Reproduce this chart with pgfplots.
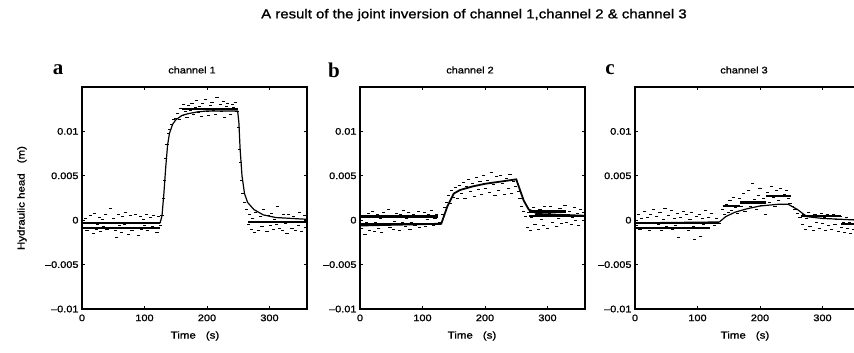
\documentclass[border=0pt]{standalone}
\usepackage{pgfplots}
\pgfplotsset{compat=1.18}
\usepackage{fontspec}
\setmainfont{Liberation Sans}
\newfontfamily\wide[FakeStretch=1.15, FakeBold=1.2]{Liberation Sans}
\newfontfamily\letterfont{Liberation Serif}
\begin{document}
\begin{tikzpicture}[x=1bp,y=1bp]
\pgfplotsset{
  panel/.style={
    scale only axis, width=225bp, height=222bp,
    anchor=south west,
    xmin=0, xmax=360, ymin=-10, ymax=15,
    xtick={0,100,200,300},
    ytick={-10,-5,0,5,10},
    yticklabels={\textendash0.01,\textendash0.005,0,0.005,0.01},
    tick align=inside, major tick length=3bp,
    axis line style={line width=1.4bp},
    tick style={line width=0.9bp, black},
    tick label style={font=\fontsize{9.5bp}{10bp}\wide},
    /pgf/number format/assume math mode=true,
    xticklabel style={yshift=-2bp},
    clip=true,
  },
  model/.style={black, line width=1.2bp, no marks},
  band/.style={black, line width=2.4bp, no marks},
  dots/.style={black, only marks, mark=-, mark size=1.6bp, mark options={line width=0.8bp}},
}
\path[use as bounding box] (0,0) rectangle (854,352);
% ---------------- panel a ----------------
\begin{axis}[panel, at={(82bp,43bp)}]
\addplot[dots] coordinates {
(3,-0.8)(5,0.2)(8,-1.2)(10,-0.4)(13,0.5)(15,-0.9)(18,-1.5)(20,0.8)(23,-1.0)(25,-0.5)
(28,0.3)(30,-1.3)(33,0.1)(35,-0.7)(38,0.6)(40,-1.0)(43,-0.3)(45,1.3)(48,-0.8)(50,0.2)
(53,-1.1)(55,-1.9)(58,0.7)(60,-0.6)(63,-1.4)(65,0.4)(68,-0.5)(70,0.9)(73,-0.9)(75,-1.6)
(78,0.5)(80,-1.2)(83,-0.3)(85,0.6)(88,-0.8)(90,-1.7)(93,0.4)(95,-1.0)(98,0.1)(100,-0.6)
(103,0.7)(105,-1.1)(108,-0.3)(110,0.3)(113,-0.7)(115,0.5)(118,-0.9)(120,-1.4)(123,0.4)(125,-0.6)
(128,0.5)(130,2.5)(132,4.5)(134,7.0)(136,8.5)(138,9.8)(140,10.2)(143,10.8)(146,11.3)(150,11.5)
(153,12.0)(156,11.3)(158,12.6)(161,11.8)(163,13.0)(166,12.2)(168,11.6)(171,12.9)(173,12.4)(176,13.2)
(178,11.9)(181,12.7)(183,13.5)(186,12.1)(188,12.8)(191,11.7)(193,13.1)(196,12.5)(198,13.6)(201,12.3)
(203,11.8)(206,12.9)(208,13.3)(211,12.4)(213,11.9)(216,13.8)(218,12.6)(221,13.0)(223,12.2)(226,13.4)
(228,11.6)(231,12.8)(233,13.2)(236,12.5)(238,11.9)(241,13.0)(243,12.7)(246,13.3)(248,12.2)
(251,10.5)(252,8.0)(253,6.5)(255,4.5)(257,3.0)(260,2.0)(263,1.2)
(266,-0.5)(268,0.6)(271,-1.0)(273,0.2)(276,-1.4)(278,0.9)(281,-0.3)(283,-1.1)(286,0.4)(288,-0.7)
(291,1.2)(293,-0.2)(296,-1.3)(298,0.5)(301,-0.6)(303,0.8)(306,-1.0)(308,0.1)(311,-0.5)(313,1.5)
(316,-0.9)(318,0.3)(321,-1.2)(323,0.6)(326,-0.4)(328,-1.5)(331,0.7)(333,-0.2)(336,-0.9)(338,0.4)
(341,-1.1)(343,0.2)(346,-0.6)(348,0.9)(351,-1.3)(353,-0.1)(356,0.5)(358,-0.8)
};
\addplot[band] coordinates {(2,-0.3)(125,-0.3)};
\addplot[band] coordinates {(2,-0.9)(125,-0.9)};
\addplot[band] coordinates {(160,12.5)(250,12.5)};
\addplot[band] coordinates {(265,-0.2)(360,-0.2)};
\addplot[model] coordinates {
(0,-0.3)(125,-0.3)(128,0.5)(131,3.0)(134,6.0)(137,8.5)(140,9.8)(145,10.8)(150,11.3)(160,11.8)
(170,12.0)(185,12.2)(200,12.3)(249,12.3)(251,11.0)(253,8.0)(256,5.0)(260,3.0)(265,2.0)(275,1.2)
(290,0.6)(310,0.3)(360,0.1)
};
\end{axis}
% ---------------- panel b ----------------
\begin{axis}[panel, at={(360bp,43bp)}]
\addplot[dots] coordinates {
(3,-0.9)(5,0.4)(8,-1.6)(10,-0.2)(13,0.8)(15,-1.1)(18,-0.5)(20,1.0)(23,-1.3)(25,-0.3)
(28,0.6)(30,-0.9)(33,0.2)(35,-1.4)(38,0.9)(40,-0.6)(43,0.3)(45,1.2)(48,-0.8)(50,0.5)
(53,-1.0)(55,-0.1)(58,0.8)(60,-0.5)(63,-1.2)(65,0.6)(68,-0.3)(70,1.1)(73,-0.7)(75,0.2)
(78,0.9)(80,-1.0)(83,-0.2)(85,0.7)(88,-0.6)(90,0.3)(93,1.0)(95,-0.8)(98,0.4)(100,-0.4)
(103,0.9)(105,-0.7)(108,0.1)(110,0.6)(113,-0.5)(115,1.1)(118,-0.6)(120,0.2)(123,0.7)(127,-0.3)
(132,0.6)(135,1.4)(138,2.0)(141,2.8)(144,1.9)(147,3.4)(150,2.6)(153,3.7)(156,2.4)(159,3.9)
(162,3.0)(165,4.3)(168,2.5)(171,3.8)(174,4.6)(177,3.2)(180,4.1)(183,2.7)(186,4.8)(189,3.5)
(192,4.4)(195,2.9)(198,5.1)(201,3.6)(204,4.5)(207,3.1)(210,5.4)(213,4.0)(216,2.8)(219,4.9)
(222,3.4)(225,5.0)(228,4.2)(231,2.9)(234,4.7)(237,3.6)(240,5.2)(243,3.0)(246,4.4)(249,3.8)
(253,3.2)(256,2.4)(259,1.6)(262,1.0)(265,0.4)
(268,-0.8)(270,0.9)(273,-1.2)(275,0.3)(278,1.4)(280,-0.5)(283,0.6)(285,-1.0)(288,1.2)(290,0.1)
(293,-0.6)(295,1.6)(298,0.4)(300,-0.9)(303,0.8)(305,1.5)(308,-0.3)(310,0.5)(313,1.1)(315,-0.7)
(318,0.2)(320,1.3)(323,-0.4)(325,0.7)(328,1.7)(330,-0.2)(333,0.6)(335,1.0)(338,-0.5)(340,0.3)
(343,1.4)(345,0.0)(348,0.8)(350,-0.6)(353,1.2)(355,0.4)(358,0.9)
};
\addplot[band] coordinates {(2,-0.4)(130,-0.4)};
\addplot[band] coordinates {(2,0.4)(125,0.4)};
\addplot[band] coordinates {(270,0.5)(360,0.5)};
\addplot[band] coordinates {(270,1.0)(330,1.0)};
\addplot[model, line width=1.8bp] coordinates {
(0,-0.6)(130,-0.4)(140,1.6)(150,3.0)(160,3.4)(180,3.8)(200,4.1)(220,4.3)(250,4.6)(255,3.6)
(262,2.2)(270,1.2)(285,0.7)(360,0.5)
};
\end{axis}
% ---------------- panel c ----------------
\begin{axis}[panel, at={(635bp,43bp)}]
\addplot[dots] coordinates {
(3,-0.6)(5,0.6)(8,-1.0)(10,0.2)(13,-0.4)(15,1.0)(18,-0.8)(20,0.3)(23,-1.2)(25,0.7)
(28,-0.2)(30,1.2)(33,-0.9)(35,0.4)(38,-0.5)(40,0.9)(43,-1.1)(45,0.1)(48,1.3)(50,-0.7)
(53,0.5)(55,-0.3)(58,1.1)(60,-1.0)(63,0.2)(65,-0.6)(68,0.8)(70,-1.9)(73,0.3)(75,-0.8)
(78,1.0)(80,-0.4)(83,0.6)(85,-1.2)(88,0.1)(90,0.9)(93,-0.7)(95,-2.2)(98,0.4)(100,-0.9)
(103,0.7)(105,-1.8)(108,0.2)(110,-0.5)(113,1.1)(115,-0.8)(118,0.3)(120,-0.3)(123,0.8)(127,-0.6)
(131,0.2)(135,-0.4)(140,1.2)(143,0.6)(146,1.8)(149,0.9)(152,2.2)(155,1.1)(158,2.6)(161,1.4)
(164,0.8)(167,2.4)(170,1.6)(173,3.0)(176,1.0)(179,2.1)(182,3.4)(185,1.5)(188,4.2)(191,2.3)
(194,1.2)(197,2.8)(200,3.6)(203,1.7)(206,2.5)(209,0.6)(212,3.1)(215,2.0)(218,3.8)(221,2.6)
(224,1.5)(227,3.3)(230,2.2)(233,3.6)(236,1.8)(239,2.9)(242,3.4)(245,2.4)(248,1.9)
(252,1.6)(256,1.2)(260,0.8)(264,0.3)
(268,-0.5)(270,0.6)(273,-1.0)(275,0.2)(278,0.9)(280,-0.7)(283,0.4)(285,-1.2)(288,0.7)(290,-0.3)
(293,0.5)(295,-0.9)(298,0.8)(300,-0.4)(303,0.3)(305,-1.1)(308,0.6)(310,-0.6)(313,0.2)(315,-1.0)
(318,0.7)(320,-0.5)(323,0.1)(325,-1.3)(328,0.4)(330,-0.8)(333,-0.2)(335,-1.4)(338,0.3)(340,-0.9)
(343,-0.3)(345,-1.5)(348,0.1)(350,-1.0)(353,-0.4)(355,-1.6)(358,-0.7)
};
\addplot[band] coordinates {(2,-0.3)(135,-0.3)};
\addplot[band] coordinates {(2,-0.9)(120,-0.9)};
\addplot[band] coordinates {(140,1.6)(168,1.6)};
\addplot[band] coordinates {(168,2.0)(210,2.0)};
\addplot[band] coordinates {(210,2.7)(250,2.7)};
\addplot[band] coordinates {(265,0.5)(330,0.5)};
\addplot[band] coordinates {(330,-0.4)(360,-0.4)};
\addplot[model] coordinates {
(0,-0.3)(135,-0.2)(145,0.4)(160,0.9)(180,1.3)(200,1.6)(230,1.8)(245,1.8)(260,1.2)(275,0.4)
(300,0.2)(360,0.0)
};
\end{axis}
% ---------------- texts ----------------
\node[font=\fontsize{13bp}{14bp}\wide] at (474,337) {A result of the joint inversion of channel 1,channel 2 \& channel 3};
\node[font=\fontsize{21bp}{22bp}\letterfont\bfseries] at (58,282) {a};
\node[font=\fontsize{21bp}{22bp}\letterfont\bfseries] at (334,282) {b};
\node[font=\fontsize{21bp}{22bp}\letterfont\bfseries] at (610,282) {c};
\node[font=\fontsize{9.5bp}{10bp}\wide] at (192,282) {channel 1};
\node[font=\fontsize{9.5bp}{10bp}\wide] at (470,282) {channel 2};
\node[font=\fontsize{9.5bp}{10bp}\wide] at (744,282) {channel 3};
\node[font=\fontsize{10bp}{10bp}\wide] at (195,16) {Time\quad(s)};
\node[font=\fontsize{10bp}{10bp}\wide] at (472,16) {Time\quad(s)};
\node[font=\fontsize{10bp}{10bp}\wide] at (745,16) {Time\quad(s)};
\node[font=\fontsize{10bp}{10bp}\wide, rotate=90] at (22,154) {Hydraulic head\quad(m)};
\end{tikzpicture}
\end{document}
